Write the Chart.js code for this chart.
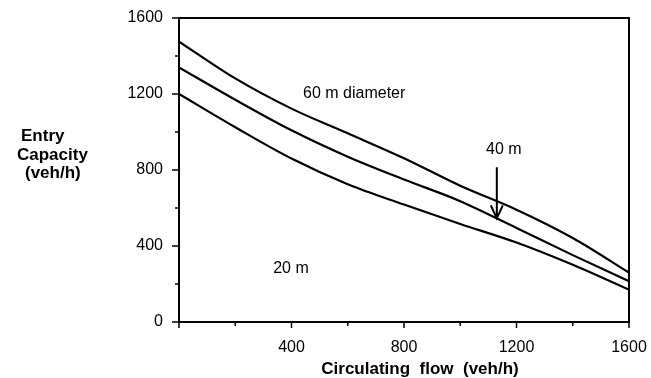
<!DOCTYPE html>
<html>
<head>
<meta charset="utf-8">
<script src="https://cdn.jsdelivr.net/npm/chart.js@4"></script>
<style>
  html, body { margin: 0; padding: 0; background: #fff; }
  #wrap { width: 651px; height: 378px; }
</style>
</head>
<body>
<div id="wrap"><canvas id="capChart" width="651" height="378"></canvas></div>
<script>
// circulating flow (veh/h)
const flow = [0, 200, 400, 600, 800, 1000, 1200, 1400, 1600];
// entry capacity (veh/h) per inscribed diameter
const dia60 = [1476, 1282, 1123, 993, 862, 717, 591, 442, 260];
const dia40 = [1340, 1170, 1009, 870, 750, 636, 495, 352, 215];
const dia20 = [1200, 1025, 860, 725, 618, 516, 418, 301, 170];

const curveLabels = [
    { text: '60 m diameter', x: 441, y: 1201, align: 'left' },
    { text: '40 m', x: 1155, y: 908, align: 'center' },
    { text: '20 m', x: 398, y: 283, align: 'center' }
];
const arrow40 = { x: 1130, from: 815, to: 545 };

function toPoints(ys) {
    return flow.map((x, i) => ({ x: x, y: ys[i] }));
}

function curve(ys) {
    return {
        data: toPoints(ys),
        borderColor: '#000',
        borderWidth: 2.2,
        pointRadius: 0,
        fill: false,
        cubicInterpolationMode: 'monotone'
    };
}

// cadre, graduations, textes
const decor = {
    id: 'decor',
    afterDraw(chart) {
        const ctx = chart.ctx;
        const a = chart.chartArea;
        const xs = chart.scales.x;
        const ys = chart.scales.y;
        ctx.save();
        ctx.strokeStyle = '#000';
        ctx.fillStyle = '#000';
        ctx.lineWidth = 2;
        ctx.strokeRect(a.left, a.top, a.right - a.left, a.bottom - a.top);

        ctx.lineWidth = 1.5;
        ys.ticks.forEach(t => {
            const py = ys.getPixelForValue(t.value);
            const len = t.value % 400 === 0 ? 7 : 4;
            ctx.beginPath();
            ctx.moveTo(a.left - len, py);
            ctx.lineTo(a.left, py);
            ctx.stroke();
        });
        xs.ticks.forEach(t => {
            const px = xs.getPixelForValue(t.value);
            const len = t.value % 400 === 0 ? 6 : 4;
            ctx.beginPath();
            ctx.moveTo(px, a.bottom);
            ctx.lineTo(px, a.bottom + len);
            ctx.stroke();
        });

        // étiquettes des courbes
        ctx.font = '16px "Liberation Sans", Arial, sans-serif';
        ctx.textBaseline = 'middle';
        curveLabels.forEach(l => {
            ctx.textAlign = l.align;
            ctx.fillText(l.text, xs.getPixelForValue(l.x), ys.getPixelForValue(l.y));
        });

        // flèche 40 m
        const ax = xs.getPixelForValue(arrow40.x);
        const ay0 = ys.getPixelForValue(arrow40.from);
        const ay1 = ys.getPixelForValue(arrow40.to);
        ctx.lineWidth = 2;
        ctx.beginPath();
        ctx.moveTo(ax, ay0);
        ctx.lineTo(ax, ay1);
        ctx.moveTo(ax - 6, ay1 - 13);
        ctx.lineTo(ax, ay1);
        ctx.lineTo(ax + 6, ay1 - 13);
        ctx.stroke();

        // titres des axes
        ctx.font = 'bold 17px "Liberation Sans", Arial, sans-serif';
        ctx.textAlign = 'left';
        ctx.fillText('Entry', 21, 136);
        ctx.fillText('Capacity', 17, 155);
        ctx.fillText('(veh/h)', 25, 173);
        ctx.textAlign = 'center';
        ctx.fillText('Circulating  flow  (veh/h)', 420, 369);
        ctx.restore();
    }
};

const ctx = document.getElementById('capChart').getContext('2d');
new Chart(ctx, {
    type: 'line',
    data: {
        datasets: [curve(dia60), curve(dia40), curve(dia20)]
    },
    options: {
        responsive: false,
        animation: false,
        devicePixelRatio: 1,
        layout: { padding: { top: 18, right: 22, left: 0, bottom: 0 } },
        plugins: {
            legend: { display: false },
            tooltip: { enabled: false }
        },
        scales: {
            x: {
                type: 'linear',
                min: 0,
                max: 1600,
                grid: { display: false },
                border: { display: false },
                ticks: {
                    stepSize: 200,
                    autoSkip: false,
                    maxRotation: 0,
                    padding: 8,
                    color: '#000',
                    font: { family: '"Liberation Sans", Arial, sans-serif', size: 16 },
                    callback: v => (v % 400 === 0 && v > 0) ? String(v) : ''
                },
                afterFit(scale) {
                    scale.height = 56;
                    scale.paddingLeft = 0;
                    scale.paddingRight = 0;
                }
            },
            y: {
                min: 0,
                max: 1600,
                grid: { display: false },
                border: { display: false },
                ticks: {
                    stepSize: 200,
                    autoSkip: false,
                    padding: 8,
                    color: '#000',
                    font: { family: '"Liberation Sans", Arial, sans-serif', size: 16 },
                    callback: v => v % 400 === 0 ? String(v) : ''
                },
                afterFit(scale) {
                    scale.width = 179;
                    scale.paddingTop = 0;
                    scale.paddingBottom = 0;
                }
            }
        }
    },
    plugins: [decor]
});
</script>
</body>
</html>
